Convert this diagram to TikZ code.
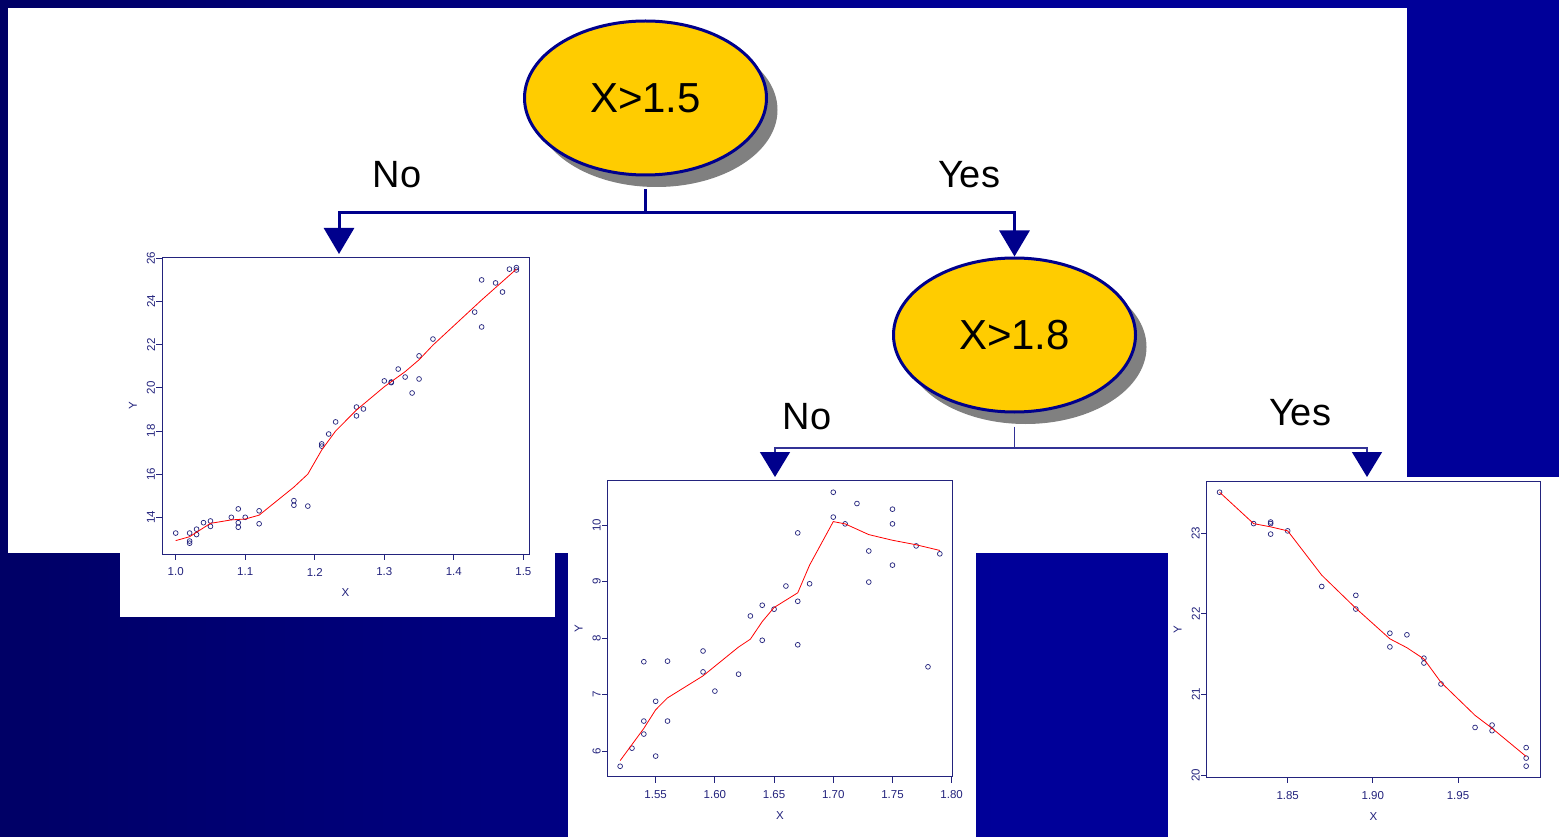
\documentclass[tikz,border=0pt]{standalone}
\usepackage{fontspec}
\setmainfont{Liberation Sans}
\usetikzlibrary{arrows.meta, shapes.geometric, shadows}

\definecolor{navy}{RGB}{0,0,140}
\definecolor{bgdark}{RGB}{0,0,102}
\definecolor{bglight}{RGB}{0,0,153}
\definecolor{gold}{RGB}{255,204,0}
\definecolor{shade}{RGB}{128,128,128}
\definecolor{plotink}{RGB}{35,35,125}
\definecolor{twigline}{RGB}{50,50,150}

\tikzset{
    split/.style={ellipse, draw=navy, line width=3pt, fill=gold, inner sep=0pt,
        minimum width=242pt, minimum height=154pt, font=\fontsize{42}{50}\selectfont,
        drop shadow={shadow xshift=11pt, shadow yshift=-12pt, fill=shade, opacity=1}},
    answer/.style={font=\fontsize{38}{44}\selectfont},
    branch/.style={draw=navy, line width=3pt, -{Triangle[width=30pt, length=26pt]}},
    twig/.style={draw=twigline, line width=1.4pt, -{Triangle[width=30pt, length=25pt, color=navy]}},
    frame/.style={draw=plotink, line width=0.8pt},
    ticklab/.style={text=plotink, font=\fontsize{11.5}{13}\selectfont, inner sep=0pt},
    obs/.style={draw=plotink, line width=0.7pt},
    smooth/.style={draw=red, line width=0.8pt}
}

\begin{document}
\begin{tikzpicture}[x=1pt, y=-1pt]
    \useasboundingbox (0,0) rectangle (1559,837);

    % Slide background
    \shade[left color=bgdark, right color=bglight] (0,0) rectangle (1000,837);
    \fill[bglight] (999,0) rectangle (1559,837);
    \fill[white] (8,8) rectangle (1407,553);
    \fill[white] (120,250) rectangle (555,617);
    \fill[white] (568,475) rectangle (976,837);
    \fill[white] (1168,477) rectangle (1559,837);

    % Splits
    \node[split] (x15) at (645.5,98) {X>1.5};
    \node[split] (x18) at (1014.5,335) {X>1.8};

    % Answers
    \node[answer] (no1) at (397,175) {No};
    \node[answer] (yes1) at (969,175) {Yes};
    \node[answer] (no2) at (807,417) {No};
    \node[answer] (yes2) at (1300,413) {Yes};

    % Branches
    \coordinate (fork1) at (645.5,213);
    \coordinate (leftleaf) at (339,254);
    \draw[branch] ([yshift=-13pt]x15.south) -- (fork1) -| (leftleaf);
    \draw[branch] (fork1) -| (x18.north);

    \coordinate (fork2) at (1014.5,448);
    \coordinate (midleaf) at (775,477);
    \coordinate (rightleaf) at (1367,477);
    \draw[twig] ([yshift=-13pt]x18.south) -- (fork2) -| (midleaf);
    \draw[twig] (fork2) -| (rightleaf);

    % Left leaf plot
    \begin{scope}[x=695.3pt, y=21.58pt, xshift=-519.6pt, yshift=-819.42pt]
        \draw[frame] (0.9803,12.30) rectangle (1.5081,26.06);
        \foreach \t in {1.0,1.1,1.2,1.3,1.4,1.5} {
            \draw[frame] (\t,12.30) -- ++(0pt,-6pt);
            \node[ticklab] at ([yshift=-18pt]\t,12.30) {\t};
        }
        \foreach \t in {14,16,18,20,22,24,26} {
            \draw[frame] (0.9803,\t) -- ++(-6pt,0pt);
            \node[ticklab, rotate=90] at ([xshift=-11pt]0.9803,\t) {\t};
        }
        \node[ticklab] at ([yshift=-39pt]1.2442,12.30) {X};
        \node[ticklab, rotate=90] at ([xshift=-29pt]0.9803,19.18) {Y};
        \foreach \px/\py in {1.00/13.27, 1.02/13.27, 1.02/12.9, 1.02/12.8, 1.03/13.45,
                1.03/13.2, 1.04/13.75, 1.05/13.83, 1.05/13.58, 1.08/14.0, 1.09/14.39,
                1.09/13.75, 1.09/13.54, 1.10/14.0, 1.12/14.3, 1.12/13.7, 1.17/14.77,
                1.17/14.56, 1.19/14.52, 1.21/17.4, 1.21/17.3, 1.22/17.86, 1.23/18.42,
                1.26/19.11, 1.26/18.7, 1.27/19.02, 1.30/20.32, 1.31/20.27, 1.31/20.24,
                1.32/20.87, 1.33/20.5, 1.34/19.76, 1.35/21.48, 1.35/20.41, 1.37/22.26,
                1.43/23.51, 1.44/25.0, 1.44/22.82, 1.46/24.86, 1.47/24.44, 1.48/25.5,
                1.49/25.57, 1.49/25.46}
            \draw[obs] (\px,\py) circle (2.4pt);
        \draw[smooth] plot coordinates {(1.00,12.92) (1.02,13.1) (1.05,13.72) (1.08,13.88)
            (1.10,13.92) (1.12,14.1) (1.17,15.4) (1.19,16.0) (1.21,17.12) (1.23,18.0)
            (1.26,18.97) (1.30,20.05) (1.33,20.75) (1.35,21.3) (1.37,21.98) (1.44,24.07)
            (1.49,25.5)};
    \end{scope}

    % Middle leaf plot
    \begin{scope}[x=1184pt, y=56.5pt, xshift=-1179.53pt, yshift=-1090pt]
        \draw[frame] (1.5095,5.545) rectangle (1.8005,10.784);
        \foreach \t in {1.55,1.60,1.65,1.70,1.75,1.80} {
            \draw[frame] (\t,5.545) -- ++(0pt,-6pt);
            \node[ticklab] at ([yshift=-18pt]\t,5.545) {\t};
        }
        \foreach \t in {6,7,8,9,10} {
            \draw[frame] (1.5095,\t) -- ++(-6pt,0pt);
            \node[ticklab, rotate=90] at ([xshift=-11pt]1.5095,\t) {\t};
        }
        \node[ticklab] at ([yshift=-39pt]1.655,5.545) {X};
        \node[ticklab, rotate=90] at ([xshift=-29pt]1.5095,8.16) {Y};
        \foreach \px/\py in {1.52/5.73, 1.53/6.05, 1.54/7.58, 1.54/6.53, 1.54/6.30,
                1.55/6.88, 1.55/5.91, 1.56/7.59, 1.56/6.53, 1.59/7.77, 1.59/7.40,
                1.60/7.06, 1.62/7.36, 1.63/8.39, 1.64/8.58, 1.64/7.96, 1.65/8.51,
                1.66/8.92, 1.67/9.86, 1.67/8.65, 1.67/7.88, 1.68/8.96, 1.70/10.58,
                1.70/10.14, 1.71/10.02, 1.72/10.38, 1.73/9.54, 1.73/8.99, 1.75/10.28,
                1.75/10.02, 1.75/9.29, 1.77/9.63, 1.78/7.49, 1.79/9.49}
            \draw[obs] (\px,\py) circle (2.4pt);
        \draw[smooth] plot coordinates {(1.52,5.83) (1.54,6.4) (1.55,6.73) (1.56,6.94)
            (1.59,7.33) (1.62,7.84) (1.63,7.98) (1.64,8.29) (1.65,8.54) (1.67,8.8)
            (1.68,9.29) (1.70,10.06) (1.71,10.02) (1.73,9.83) (1.75,9.73) (1.77,9.65)
            (1.79,9.55)};
    \end{scope}

    % Right leaf plot
    \begin{scope}[x=1703.3pt, y=80.57pt, xshift=-1863.43pt, yshift=-2386.4pt]
        \draw[frame] (1.8025,19.971) rectangle (1.9981,23.649);
        \foreach \t in {1.85,1.90,1.95} {
            \draw[frame] (\t,19.971) -- ++(0pt,-6pt);
            \node[ticklab] at ([yshift=-18pt]\t,19.971) {\t};
        }
        \foreach \t in {20,21,22,23} {
            \draw[frame] (1.8025,\t) -- ++(-6pt,0pt);
            \node[ticklab, rotate=90] at ([xshift=-11pt]1.8025,\t) {\t};
        }
        \node[ticklab] at ([yshift=-39pt]1.9003,19.971) {X};
        \node[ticklab, rotate=90] at ([xshift=-29pt]1.8025,21.81) {Y};
        \foreach \px/\py in {1.81/23.51, 1.83/23.12, 1.84/23.14, 1.84/23.12, 1.84/22.99,
                1.85/23.03, 1.87/22.34, 1.89/22.23, 1.89/22.06, 1.91/21.76, 1.91/21.59,
                1.92/21.74, 1.93/21.45, 1.93/21.39, 1.94/21.13, 1.96/20.59, 1.97/20.62,
                1.97/20.55, 1.99/20.34, 1.99/20.21, 1.99/20.11}
            \draw[obs] (\px,\py) circle (2.4pt);
        \draw[smooth] plot coordinates {(1.81,23.51) (1.83,23.12) (1.84,23.08) (1.85,23.03)
            (1.87,22.48) (1.89,22.07) (1.91,21.69) (1.92,21.58) (1.93,21.44) (1.94,21.15)
            (1.96,20.74) (1.97,20.58) (1.99,20.23)};
    \end{scope}
\end{tikzpicture}
\end{document}
